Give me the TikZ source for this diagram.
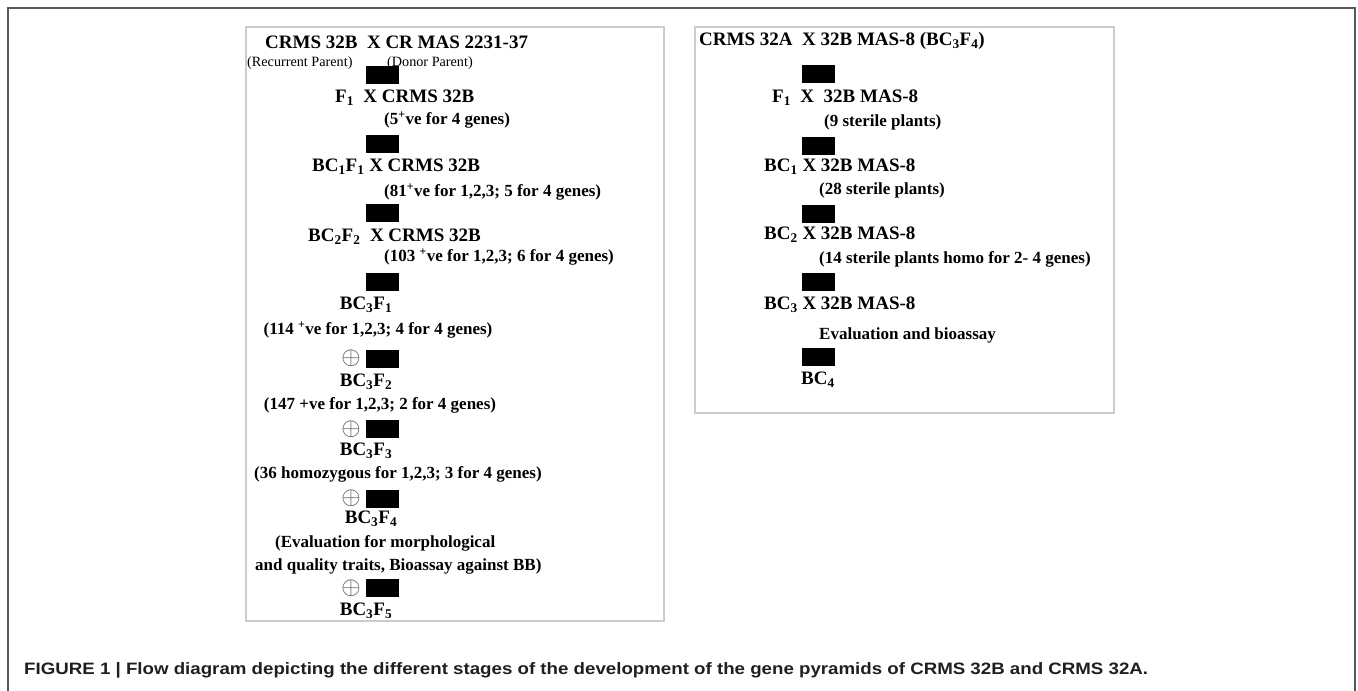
\documentclass[tikz,border=0pt]{standalone}
\usepackage{fontspec}
\setmainfont{Liberation Serif}
\newfontfamily\capfont{Liberation Sans}
\usetikzlibrary{positioning}
\tikzset{
  ttl/.style={inner sep=0pt,font=\fontsize{19}{22}\selectfont\bfseries},
  nt/.style={inner sep=0pt,font=\fontsize{17}{20}\selectfont\bfseries},
  par/.style={inner sep=0pt,font=\fontsize{14.2}{16}\selectfont},
  bar/.style={rectangle,fill=black,inner sep=0pt,minimum width=33pt,minimum height=18pt},
  selfd/.style={inner sep=0pt,text=black!70,font=\fontsize{23}{26}\selectfont},
  pnl/.style={draw=black!20,line width=1.3pt},
  frm/.style={draw=black!65,line width=1.5pt},
  captxt/.style={inner sep=0pt,text=black!88,font=\fontsize{16.5}{19}\selectfont\capfont\bfseries}
}
\begin{document}
\begin{tikzpicture}[x=1pt,y=-1pt]
  \useasboundingbox (0,0) rectangle (1358,691);
  % frames
  \draw[frm] (8,691) -- (8,8) -- (1355,8) -- (1355,691);
  \draw[pnl] (246,27) rectangle (664,621);
  \draw[pnl] (695,27) rectangle (1114,413);

  % left panel: CRMS 32B pyramid
  \node[ttl,anchor=west] (crossB) at (265,42) {CRMS 32B\ \ X CR MAS 2231-37};
  \node[par,anchor=west] (recp) at (247,63) {(Recurrent Parent)};
  \node[par,anchor=west] (donp) at (387,63) {(Donor Parent)};
  \node[bar] (b1) at (382.5,75) {};
  \node[ttl,anchor=west] (f1) at (335,98) {F\textsubscript{1}\ \ X CRMS 32B};
  \node[nt,anchor=west] (n1) at (384,120) {(5\textsuperscript{+}ve for 4 genes)};
  \node[bar] (b2) at (382.5,144) {};
  \node[ttl,anchor=west] (bc1f1) at (312,167) {BC\textsubscript{1}F\textsubscript{1} X CRMS 32B};
  \node[nt,anchor=west] (n2) at (384,192) {(81\textsuperscript{+}ve for 1,2,3; 5 for 4 genes)};
  \node[bar] (b3) at (382.5,213) {};
  \node[ttl,anchor=west] (bc2f2) at (308,237) {BC\textsubscript{2}F\textsubscript{2}\ \ X CRMS 32B};
  \node[nt,anchor=west] (n3) at (384,257) {(103 \textsuperscript{+}ve for 1,2,3; 6 for 4 genes)};
  \node[bar] (b4) at (382.5,282) {};
  \node[ttl] (bc3f1) at (366,305) {BC\textsubscript{3}F\textsubscript{1}};
  \node[nt] (n4) at (378,330) {(114 \textsuperscript{+}ve for 1,2,3; 4 for 4 genes)};
  \node[bar] (b5) at (382.5,358.5) {};
  \node[selfd,left=5pt of b5] (s5) {$\oplus$};
  \node[ttl] (bc3f2) at (366,382) {BC\textsubscript{3}F\textsubscript{2}};
  \node[nt] (n5) at (380,405) {(147 +ve for 1,2,3; 2 for 4 genes)};
  \node[bar] (b6) at (382.5,429) {};
  \node[selfd,left=5pt of b6] (s6) {$\oplus$};
  \node[ttl] (bc3f3) at (366,451) {BC\textsubscript{3}F\textsubscript{3}};
  \node[nt] (n6) at (398,474) {(36 homozygous for 1,2,3; 3 for 4 genes)};
  \node[bar] (b7) at (382.5,498.5) {};
  \node[selfd,left=5pt of b7] (s7) {$\oplus$};
  \node[ttl] (bc3f4) at (371,519) {BC\textsubscript{3}F\textsubscript{4}};
  \node[nt,anchor=west] (n7) at (275,543) {(Evaluation for morphological};
  \node[nt,anchor=west] (n7b) at (255,566) {and quality traits, Bioassay against BB)};
  \node[bar] (b8) at (382.5,588) {};
  \node[selfd,left=5pt of b8] (s8) {$\oplus$};
  \node[ttl] (bc3f5) at (366,611) {BC\textsubscript{3}F\textsubscript{5}};

  % right panel: CRMS 32A
  \node[ttl,anchor=west] (crossA) at (699,41) {CRMS 32A\ \ X 32B MAS-8 (BC\textsubscript{3}F\textsubscript{4})};
  \node[bar] (a1) at (818.5,74) {};
  \node[ttl,anchor=west] (af1) at (772,98) {F\textsubscript{1}\ \ X\ \ 32B MAS-8};
  \node[nt,anchor=west] (m1) at (824,122) {(9 sterile plants)};
  \node[bar] (a2) at (818.5,145.5) {};
  \node[ttl,anchor=west] (abc1) at (764,167) {BC\textsubscript{1} X 32B MAS-8};
  \node[nt,anchor=west] (m2) at (819,190) {(28 sterile plants)};
  \node[bar] (a3) at (818.5,213.5) {};
  \node[ttl,anchor=west] (abc2) at (764,235) {BC\textsubscript{2} X 32B MAS-8};
  \node[nt,anchor=west] (m3) at (819,259) {(14 sterile plants homo for 2- 4 genes)};
  \node[bar] (a4) at (818.5,282) {};
  \node[ttl,anchor=west] (abc3) at (764,305) {BC\textsubscript{3} X 32B MAS-8};
  \node[nt,anchor=west] (m4) at (819,335) {Evaluation and bioassay};
  \node[bar] (a5) at (818.5,357) {};
  \node[ttl,anchor=west] (abc4) at (801,380) {BC\textsubscript{4}};

  \node[captxt,anchor=west] (caption) at (24,670) {\scalebox{1.133}[1]{FIGURE 1 | Flow diagram depicting the different stages of the development of the gene pyramids of CRMS 32B and CRMS 32A.}};
\end{tikzpicture}
\end{document}
